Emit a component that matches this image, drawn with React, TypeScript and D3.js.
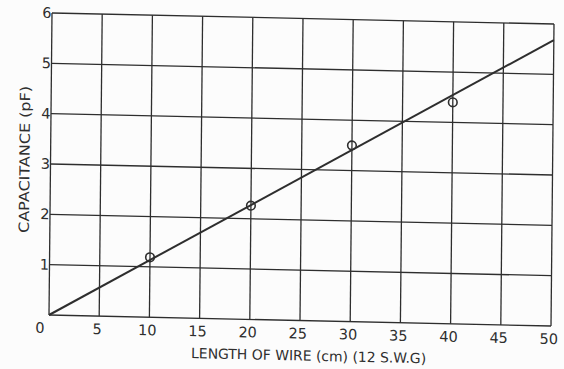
import React from "react";
import * as d3 from "d3";

const xTicks = [0, 5, 10, 15, 20, 25, 30, 35, 40, 45, 50];
const yTicks = [0, 1, 2, 3, 4, 5, 6];
const yTickLabels = ["1", "2", "3", "4", "5", "6"];
const pointLength = [10, 20, 30, 40];
const pointCap = [1.19, 2.26, 3.5, 4.4];
const fitLength = [0, 50];
const fitCap = [0, 5.68];
const xTitle = "LENGTH OF WIRE  (cm) (12 S.W.G)";
const yTitle = "CAPACITANCE (pF)";

const W = 502;
const H = 302;
const INK = "#2e2e2e";
const FONT = "'DejaVu Sans', sans-serif";

export default function App() {
  const x = d3.scaleLinear().domain([0, 50]).range([0, W]);
  const y = d3.scaleLinear().domain([0, 6]).range([H, 0]);
  const line = d3
    .line<number>()
    .x((_, i) => x(fitLength[i]))
    .y((d) => y(d));
  const b = 11 / W;
  const c = -3 / H;
  return (
    <svg
      width={564}
      height={369}
      style={{ position: "absolute", left: 0, top: 0, background: "#fcfcfc" }}
    >
      <rect width={564} height={369} fill="#fcfcfc" />
      <g transform={`matrix(1 ${b} ${c} 1 52 13)`}>
        {xTicks.map((t) => (
          <line
            key={"vx" + t}
            x1={x(t)}
            x2={x(t)}
            y1={0}
            y2={H}
            stroke={INK}
            strokeWidth={1.3}
          />
        ))}
        {yTicks.map((t) => (
          <line
            key={"hy" + t}
            x1={0}
            x2={W}
            y1={y(t)}
            y2={y(t)}
            stroke={INK}
            strokeWidth={1.3}
          />
        ))}
        <path d={line(fitCap) || ""} fill="none" stroke={INK} strokeWidth={2} />
        {pointLength.map((L, i) => (
          <circle
            key={"p" + i}
            cx={x(L)}
            cy={y(pointCap[i])}
            r={4.3}
            fill="none"
            stroke={INK}
            strokeWidth={1.6}
          />
        ))}
        {xTicks.map((t, i) => (
          <text
            key={"xl" + t}
            x={i === 0 ? x(t) - 9 : x(t) - 2}
            y={H + 18}
            textAnchor="middle"
            fontFamily={FONT}
            fontSize={14.5}
            fill={INK}
          >
            {t}
          </text>
        ))}
        {yTickLabels.map((s, i) => (
          <text
            key={"yl" + s}
            x={-0.5}
            y={y(i + 1) + 5}
            textAnchor="end"
            fontFamily={FONT}
            fontSize={14.5}
            fill={INK}
          >
            {s}
          </text>
        ))}
        <text
          x={260}
          y={H + 40}
          textAnchor="middle"
          fontFamily={FONT}
          fontSize={14}
          fill={INK}
          textLength={235}
          lengthAdjust="spacingAndGlyphs"
        >
          {xTitle}
        </text>
        <text
          transform={`translate(-21, ${147}) rotate(-90)`}
          textAnchor="middle"
          fontFamily={FONT}
          fontSize={14}
          fill={INK}
          textLength={147}
          lengthAdjust="spacingAndGlyphs"
        >
          {yTitle}
        </text>
      </g>
    </svg>
  );
}
